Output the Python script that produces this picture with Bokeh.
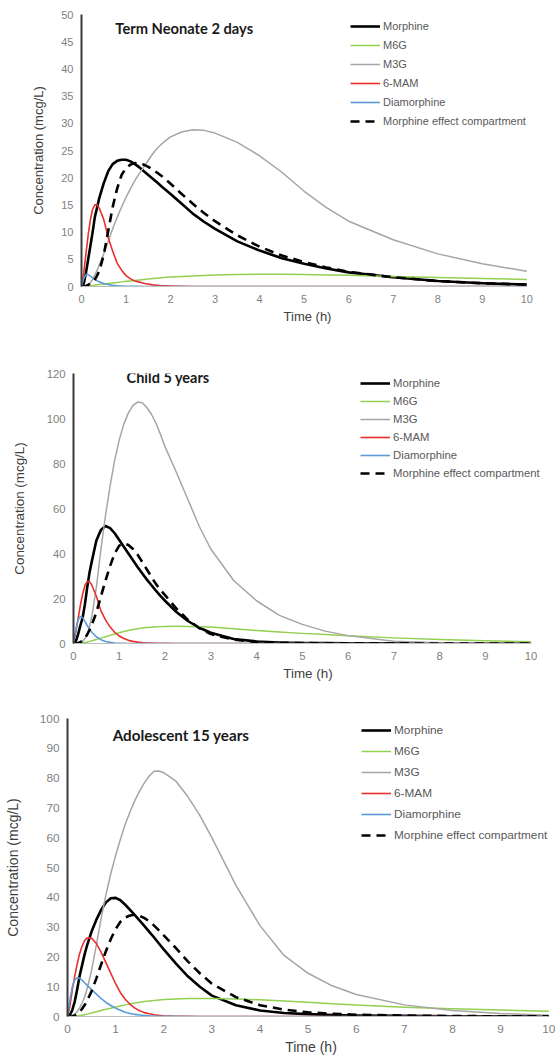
from bokeh.plotting import figure
from bokeh.models import Range1d, Legend, LegendItem, Label, FixedTicker
from bokeh.embed import file_html
from bokeh.resources import INLINE

# ---------------- data ----------------
time_h = [0, 0.05, 0.1, 0.15, 0.2, 0.25, 0.3, 0.35, 0.4, 0.5, 0.6, 0.7, 0.8, 0.9, 1.0,
          1.1, 1.2, 1.3, 1.4, 1.5, 1.6, 1.7, 1.8, 1.9, 2.0, 2.25, 2.5, 2.75, 3.0, 3.5,
          4.0, 4.5, 5.0, 5.5, 6.0, 7.0, 8.0, 9.0, 10.0]

series_names = ["Morphine", "M6G", "M3G", "6-MAM", "Diamorphine", "Morphine effect compartment"]
x_ticks = [0, 1, 2, 3, 4, 5, 6, 7, 8, 9, 10]

# Term neonate 2 days
neo_morphine = [0, 0.5, 2.5, 5.0, 7.5, 10.0, 12.8, 14.5, 16.3, 19.0, 21.2, 22.5, 23.1, 23.3, 23.3,
                23.0, 22.5, 21.9, 21.2, 20.5, 19.8, 19.1, 18.4, 17.7, 17.0, 15.2, 13.4, 11.9, 10.6, 8.3,
                6.6, 5.2, 4.2, 3.3, 2.6, 1.7, 1.0, 0.6, 0.35]
neo_m6g = [0, 0.02, 0.05, 0.1, 0.15, 0.2, 0.25, 0.3, 0.35, 0.45, 0.55, 0.65, 0.75, 0.85, 0.95,
           1.03, 1.1, 1.2, 1.3, 1.38, 1.45, 1.53, 1.6, 1.68, 1.75, 1.85, 1.95, 2.03, 2.1, 2.2,
           2.25, 2.25, 2.2, 2.13, 2.05, 1.85, 1.65, 1.45, 1.3]
neo_m3g = [0, 0, 0.1, 0.3, 0.7, 1.3, 2.1, 3.0, 4.0, 6.0, 8.3, 10.6, 12.7, 14.6, 16.4,
           18.0, 19.5, 20.8, 22.0, 23.2, 24.4, 25.4, 26.2, 26.9, 27.5, 28.4, 28.8, 28.7, 28.2, 26.5,
           24.0, 21.0, 17.5, 14.5, 12.0, 8.6, 6.0, 4.2, 2.8]
neo_mam = [0, 2.5, 6.0, 9.5, 12.3, 14.2, 15.0, 15.0, 14.4, 12.3, 9.0, 6.5, 4.3, 3.0, 2.0,
           1.4, 1.0, 0.8, 0.6, 0.43, 0.3, 0.22, 0.15, 0.11, 0.08, 0.03, 0.01, 0, 0, 0,
           0, 0, 0, 0, 0, 0, 0, 0, 0]
neo_dia = [0, 1.5, 2.2, 2.2, 1.9, 1.6, 1.3, 1.05, 0.85, 0.55, 0.35, 0.22, 0.14, 0.09, 0.05,
           0.03, 0.02, 0.015, 0.01, 0.005, 0, 0, 0, 0, 0, 0, 0, 0, 0, 0,
           0, 0, 0, 0, 0, 0, 0, 0, 0]
neo_effect = [0, 0, 0.1, 0.3, 0.6, 0.9, 1.3, 2.0, 2.9, 5.8, 10.2, 14.6, 18.0, 20.5, 21.8,
              22.4, 22.7, 22.6, 22.4, 22.0, 21.5, 20.9, 20.3, 19.6, 18.9, 17.0, 15.2, 13.5, 12.0, 9.4,
              7.3, 5.7, 4.5, 3.5, 2.7, 1.7, 1.0, 0.6, 0.35]
neo_y_ticks = [0, 5, 10, 15, 20, 25, 30, 35, 40, 45, 50]

# Child 5 years
child_morphine = [0, 1.0, 4.0, 8.0, 11.5, 17.5, 25.0, 31.5, 36.5, 45.8, 50.5, 52.2, 51.3, 49.0, 46.0,
                  43.0, 40.0, 37.0, 34.0, 31.2, 28.5, 26.0, 23.5, 21.2, 19.0, 14.0, 10.0, 7.0, 4.8, 2.0,
                  0.9, 0.45, 0.25, 0.15, 0.1, 0.05, 0.02, 0.01, 0]
child_m6g = [0, 0.05, 0.1, 0.2, 0.3, 0.5, 0.7, 0.95, 1.2, 1.8, 2.4, 3.0, 3.6, 4.2, 4.8,
             5.3, 5.8, 6.2, 6.6, 6.85, 7.1, 7.25, 7.4, 7.5, 7.6, 7.65, 7.6, 7.45, 7.3, 6.6,
             5.8, 5.1, 4.5, 3.95, 3.4, 2.5, 1.8, 1.2, 0.8]
child_m3g = [0, 0, 0.1, 0.4, 1.0, 2.2, 4.0, 7.5, 12.0, 25.0, 42.0, 57.0, 70.0, 81.5, 90.5,
             97.5, 102.5, 105.8, 107.3, 107.0, 105.0, 102.0, 98.0, 93.0, 87.5, 76.0, 64.0, 52.0, 42.0, 28.0,
             19.0, 12.5, 8.5, 5.5, 3.5, 1.0, 0.3, 0.1, 0.03]
child_mam = [0, 5.0, 11.0, 17.0, 22.0, 25.8, 27.5, 27.5, 26.0, 21.0, 14.5, 10.5, 7.3, 5.0, 3.3,
             2.2, 1.4, 0.95, 0.6, 0.4, 0.25, 0.16, 0.1, 0.06, 0.04, 0.01, 0, 0, 0, 0,
             0, 0, 0, 0, 0, 0, 0, 0, 0]
child_dia = [0, 6.0, 10.5, 12.0, 11.5, 9.8, 8.0, 6.4, 5.0, 3.0, 1.7, 0.9, 0.5, 0.25, 0.12,
             0.06, 0.03, 0.02, 0.01, 0, 0, 0, 0, 0, 0, 0, 0, 0, 0, 0,
             0, 0, 0, 0, 0, 0, 0, 0, 0]
child_effect = [0, 0, 0.2, 0.6, 1.3, 2.4, 4.0, 6.0, 8.3, 13.8, 21.0, 28.0, 34.5, 40.0, 43.5,
                44.5, 43.8, 42.0, 39.5, 36.3, 33.0, 29.7, 26.5, 23.8, 21.5, 15.5, 10.5, 6.8, 4.2, 1.7,
                0.7, 0.35, 0.2, 0.12, 0.08, 0.04, 0.02, 0.01, 0]
child_y_ticks = [0, 20, 40, 60, 80, 100, 120]

# Adolescent 15 years
adol_morphine = [0, 0.5, 2.2, 5.0, 9.0, 13.5, 17.0, 20.5, 23.5, 28.5, 32.5, 35.8, 38.3, 39.7, 39.8,
                 39.0, 37.5, 35.8, 34.0, 32.2, 30.3, 28.4, 26.5, 24.5, 22.5, 17.8, 13.5, 10.0, 7.0, 3.8,
                 2.0, 1.2, 0.8, 0.5, 0.35, 0.2, 0.1, 0.05, 0.03]
adol_m6g = [0, 0.02, 0.05, 0.12, 0.2, 0.32, 0.45, 0.62, 0.8, 1.2, 1.6, 2.0, 2.4, 2.8, 3.2,
            3.55, 3.9, 4.2, 4.5, 4.75, 5.0, 5.2, 5.4, 5.55, 5.7, 5.9, 6.0, 6.05, 6.05, 5.9,
            5.6, 5.2, 4.75, 4.3, 3.9, 3.1, 2.6, 2.15, 1.8]
adol_m3g = [0, 0, 0.3, 0.8, 1.6, 2.8, 4.4, 6.3, 8.8, 15.5, 24.0, 33.0, 41.0, 48.0, 54.0,
            59.5, 64.5, 68.7, 72.5, 75.7, 78.5, 80.7, 82.3, 82.4, 81.8, 79.0, 73.8, 67.5, 60.0, 44.0,
            30.5, 20.5, 14.5, 10.3, 7.4, 3.9, 2.0, 1.0, 0.45]
adol_mam = [0, 3.5, 9.0, 13.5, 17.5, 21.0, 23.5, 25.3, 26.3, 26.3, 24.5, 21.5, 18.0, 14.5, 11.0,
            8.0, 5.8, 4.1, 2.8, 1.95, 1.3, 0.9, 0.6, 0.4, 0.25, 0.1, 0.04, 0, 0, 0,
            0, 0, 0, 0, 0, 0, 0, 0, 0]
adol_dia = [0, 5.5, 10.0, 12.3, 13.0, 12.8, 12.2, 11.4, 10.6, 9.0, 7.5, 6.0, 4.7, 3.7, 2.8,
            2.1, 1.4, 1.0, 0.7, 0.5, 0.35, 0.23, 0.15, 0.1, 0.07, 0.03, 0, 0, 0, 0,
            0, 0, 0, 0, 0, 0, 0, 0, 0]
adol_effect = [0, 0, 0.1, 0.3, 0.8, 1.5, 2.5, 3.7, 5.0, 8.5, 12.8, 17.5, 22.0, 26.0, 29.3,
               31.8, 33.2, 33.9, 34.2, 33.8, 33.0, 31.9, 30.5, 28.9, 27.2, 23.0, 18.5, 14.5, 11.0, 6.5,
               3.8, 2.3, 1.4, 0.9, 0.6, 0.3, 0.15, 0.08, 0.04]
adol_y_ticks = [0, 10, 20, 30, 40, 50, 60, 70, 80, 90, 100]

# ---------------- styling ----------------
STYLES = [
    dict(color="#000000", line_width=2.6, line_dash="solid"),
    dict(color="#92D050", line_width=1.5, line_dash="solid"),
    dict(color="#A5A5A5", line_width=1.5, line_dash="solid"),
    dict(color="#E8312E", line_width=1.6, line_dash="solid"),
    dict(color="#5B9BD5", line_width=1.6, line_dash="solid"),
    dict(color="#000000", line_width=2.6, line_dash="9 6"),
]

FONT = "Liberation Sans"


def make_panel(title, data, y_max, y_ticks, x_end, height, b_left, b_right, b_top, b_bottom,
               ylab_standoff, title_x, title_y, title_size, leg_x, leg_y, leg_spacing,
               tick_size, lab_size, leg_size):
    p = figure(width=557, height=height, output_backend="svg", toolbar_location=None,
               x_range=Range1d(0, x_end), y_range=Range1d(0, y_max),
               min_border_left=b_left, min_border_right=b_right,
               min_border_top=b_top, min_border_bottom=b_bottom)
    p.outline_line_color = None
    p.xgrid.visible = False
    p.ygrid.visible = False
    p.background_fill_color = "white"
    p.border_fill_color = "white"

    p.xaxis.ticker = FixedTicker(ticks=x_ticks)
    p.yaxis.ticker = FixedTicker(ticks=y_ticks)
    p.xaxis.bounds = (0, 10)
    for ax in (p.xaxis, p.yaxis):
        ax.major_tick_out = 0
        ax.major_tick_in = 0
        ax.minor_tick_out = 0
        ax.minor_tick_in = 0
        ax.major_label_text_font = FONT
        ax.major_label_text_font_size = tick_size
        ax.major_label_text_color = "#7F7F7F"
        ax.axis_label_text_font = FONT
        ax.axis_label_text_font_size = lab_size
        ax.axis_label_text_font_style = "normal"
        ax.axis_label_text_color = "#404040"
    p.xaxis.axis_label = "Time (h)"
    p.yaxis.axis_label = "Concentration (mcg/L)"
    p.xaxis.major_label_standoff = 8
    p.xaxis.axis_label_standoff = 3
    p.yaxis.major_label_standoff = 8
    p.yaxis.axis_label_standoff = ylab_standoff
    p.xaxis.axis_line_color = "#BFBFBF"
    p.xaxis.axis_line_width = 1
    p.yaxis.axis_line_color = "#3A3A3A"
    p.yaxis.axis_line_width = 2

    items = []
    for name, vals, st in zip(series_names, data, STYLES):
        r = p.line(time_h, vals, line_color=st["color"], line_width=st["line_width"],
                   line_dash=st["line_dash"], line_join="round")
        items.append(LegendItem(label=name, renderers=[r]))

    legend = Legend(items=items, location=(leg_x, leg_y), padding=0, margin=0,
                    spacing=leg_spacing, glyph_width=30, glyph_height=14, label_height=14,
                    label_standoff=3, label_text_font=FONT, label_text_font_size=leg_size,
                    label_text_color="#595959", border_line_color=None,
                    background_fill_alpha=0)
    p.add_layout(legend, "center")

    p.add_layout(Label(x=title_x, y=title_y, text=title, text_font="Lato",
                       text_font_style="bold", text_font_size=title_size, text_color="#1A1A1A",
                       text_baseline="middle", text_align="left"))
    return p


p1 = make_panel("Term Neonate 2 days",
                [neo_morphine, neo_m6g, neo_m3g, neo_mam, neo_dia, neo_effect],
                50, neo_y_ticks, 10.15, 326, 81, 24, 14, 40, 12,
                0.76, 47.6, "14.7px", 269, 158, 5, "11px", "13px", "11px")
p2 = make_panel("Child 5 years",
                [child_morphine, child_m6g, child_m3g, child_mam, child_dia, child_effect],
                120, child_y_ticks, 10.25, 357, 73, 15, 47, 40, 17,
                1.16, 118.2, "14.5px", 287, 163, 4, "11.3px", "13.4px", "11.3px")
p3 = make_panel("Adolescent 15 years",
                [adol_morphine, adol_m6g, adol_m3g, adol_mam, adol_dia, adol_effect],
                100, adol_y_ticks, 10.12, 374, 67, 3, 35, 40, 16,
                0.94, 94.6, "15.2px", 294, 174, 7, "11.8px", "14px", "11.8px")

open("out.html", "w").write(file_html([p1, p2, p3], INLINE))
